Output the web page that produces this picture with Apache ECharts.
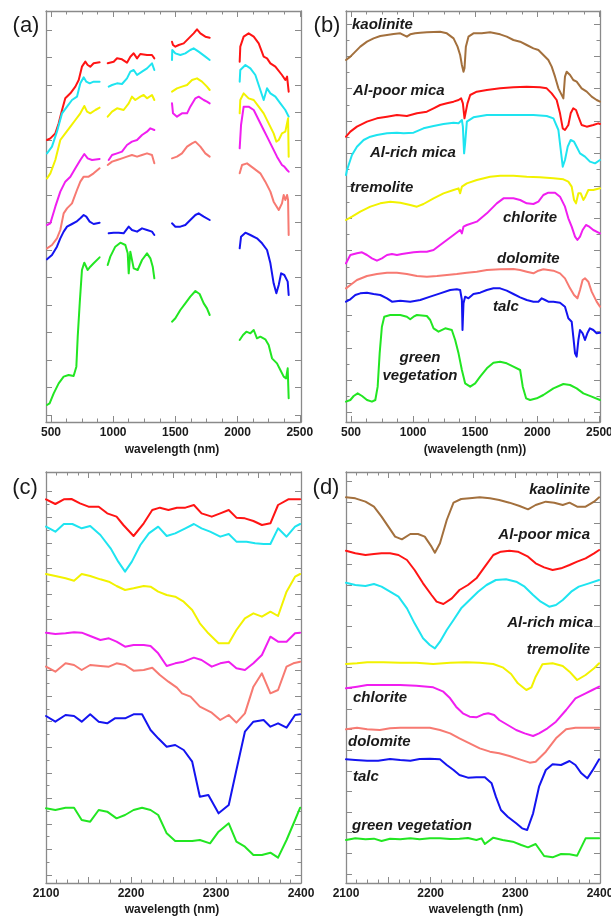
<!DOCTYPE html>
<html>
<head>
<meta charset="utf-8">
<script src="https://cdn.jsdelivr.net/npm/echarts@6/dist/echarts.min.js"></script>
<style>
  html, body { margin: 0; padding: 0; background: #ffffff; }
  #chart { width: 611px; height: 919px; }
</style>
</head>
<body>
<div id="chart"></div>
<script>
// Spectra as [wavelength (nm), relative reflectance, vertically offset].
// Panel (a): image spectra, split into segments by the atmospheric water bands.
const aAlPoorMica = [
  [[468,84.6],[495,85.1],[535,86.6],[562,89.6],[589,93.6],[615,97.1],[656,98.6],[696,100.6],[723,102.6],[749,106.6],[776,108.1],[795,107.1],[816,106.6],[843,107.6],[891,107.9]],
  [[956,107.6],[1004,108.1],[1031,109.1],[1071,108.8],[1111,107.8],[1138,109.6],[1165,110.6],[1192,109.1],[1218,110.4],[1272,110.1],[1312,110.1],[1331,109.1]],
  [[1473,114.1],[1481,113.1],[1500,112.6],[1527,113.1],[1567,113.6],[1607,115.1],[1647,116.6],[1674,117.8],[1701,116.6],[1741,115.6],[1776,115.3]],
  [[2017,108.1],[2022,112.6],[2049,115.6],[2089,116.6],[2130,115.6],[2170,113.6],[2210,109.6],[2237,109.1],[2264,107.6],[2304,106.6],[2357,104.1],[2384,102.6],[2398,103.6],[2411,99.1]]
];
const aAlRichMica = [
  [[468,80.6],[508,82.6],[548,87.1],[589,92.6],[629,94.6],[669,96.6],[709,97.6],[736,101.6],[763,103.4],[784,102.1],[811,101.6],[843,102.1],[891,102.1]],
  [[964,100.6],[991,101.1],[1031,101.6],[1071,101.4],[1111,103.1],[1138,105.1],[1165,105.6],[1192,104.1],[1232,105.1],[1272,106.1],[1312,107.6],[1331,105.6]],
  [[1473,108.6],[1475,111.6],[1500,110.6],[1540,110.1],[1580,110.6],[1620,111.6],[1647,112.1],[1687,111.1],[1741,109.6],[1776,108.6]],
  [[2017,102.1],[2022,105.6],[2063,107.1],[2103,106.1],[2143,104.1],[2183,99.6],[2210,96.6],[2237,100.1],[2264,98.6],[2304,97.6],[2344,95.6],[2384,93.6],[2411,91.6]]
];
const aTremolite = [
  [[468,73.1],[495,74.6],[535,78.6],[575,84.6],[615,86.6],[656,88.6],[696,90.6],[736,92.6],[768,94.8],[790,93.1],[816,92.6],[857,93.6],[891,94.3]],
  [[956,91.6],[991,93.1],[1031,94.1],[1084,93.6],[1125,95.6],[1151,97.6],[1178,96.6],[1218,97.6],[1245,98.1],[1272,97.1],[1312,98.1],[1331,96.6]],
  [[1473,99.1],[1513,100.1],[1553,100.6],[1594,101.1],[1634,102.6],[1674,103.1],[1714,102.1],[1754,100.6],[1776,99.6]],
  [[2017,92.6],[2022,96.6],[2049,98.6],[2089,97.1],[2130,96.6],[2170,94.6],[2210,92.6],[2250,89.6],[2290,86.6],[2312,84.1],[2331,84.6],[2357,86.6],[2384,87.1],[2406,91.1],[2411,79.6]]
];
const aChlorite = [
  [[468,59.1],[495,59.6],[535,64.6],[575,69.1],[615,72.1],[656,73.6],[696,76.1],[736,78.6],[768,80.4],[795,79.1],[830,78.6],[891,78.9]],
  [[964,78.6],[991,80.1],[1031,80.6],[1071,81.1],[1111,83.1],[1151,84.1],[1192,84.6],[1232,86.1],[1272,87.1],[1299,88.1],[1331,87.6]],
  [[1473,95.6],[1481,92.6],[1513,91.6],[1553,92.6],[1594,92.6],[1620,94.6],[1661,97.1],[1687,97.6],[1728,96.6],[1754,96.1],[1776,95.6]],
  [[2017,82.1],[2028,89.1],[2049,94.6],[2089,94.6],[2130,93.6],[2170,90.6],[2210,87.6],[2237,85.6],[2277,82.6],[2317,79.6],[2357,77.1],[2376,76.6],[2398,75.6],[2411,75.1]]
];
const aDolomite = [
  [[468,52.1],[508,53.1],[548,55.1],[575,57.6],[602,62.6],[629,64.1],[669,65.6],[709,69.6],[736,72.1],[763,73.6],[803,73.6],[843,74.6],[891,76.1]],
  [[956,77.1],[991,78.1],[1031,78.6],[1071,79.1],[1111,79.6],[1151,80.1],[1192,79.6],[1232,80.1],[1272,80.6],[1312,80.1],[1331,77.6]],
  [[1473,79.1],[1513,79.6],[1553,80.6],[1594,82.6],[1634,83.6],[1661,84.1],[1701,82.6],[1741,80.6],[1776,79.6]],
  [[2017,74.6],[2036,77.1],[2076,77.6],[2130,76.1],[2183,74.6],[2223,72.1],[2264,69.1],[2290,66.1],[2331,63.6],[2357,65.6],[2371,68.1],[2384,66.6],[2398,68.1],[2406,66.6],[2411,56.1]]
];
const aTalc = [
  [[468,48.8],[508,50.1],[548,52.6],[575,55.1],[602,57.1],[629,58.6],[669,59.4],[704,60.1],[736,61.1],[763,62.1],[784,61.6],[811,60.1],[843,59.4],[891,59.8]],
  [[964,56.6],[1004,56.8],[1044,56.8],[1084,56.6],[1125,58.6],[1151,57.6],[1192,57.1],[1232,58.1],[1272,57.6],[1312,57.1],[1331,56.1]],
  [[1473,59.6],[1500,58.6],[1540,58.6],[1580,59.1],[1620,60.6],[1661,62.1],[1687,62.6],[1728,61.6],[1776,60.6]],
  [[2017,52.1],[2028,55.6],[2063,56.8],[2103,56.1],[2156,55.1],[2197,53.6],[2237,51.6],[2264,47.6],[2290,41.6],[2312,38.6],[2331,41.1],[2350,44.6],[2376,44.1],[2403,42.1],[2411,38.1]]
];
const aVegetation = [
  [[468,5.1],[489,5.6],[522,8.6],[562,11.6],[602,13.6],[642,14.1],[682,13.8],[704,16.6],[715,25.6],[731,35.6],[749,45.6],[768,47.8],[795,45.6],[816,46.6],[843,47.6],[891,49.4]],
  [[956,47.1],[977,49.6],[1017,52.6],[1058,53.8],[1098,53.1],[1117,50.6],[1125,44.6],[1138,51.1],[1151,50.6],[1165,46.1],[1197,45.6],[1232,48.6],[1272,50.6],[1299,49.1],[1318,46.6],[1331,43.1]],
  [[1473,30.1],[1500,31.1],[1540,33.6],[1580,35.6],[1620,37.6],[1661,39.3],[1695,38.4],[1728,35.6],[1754,34.1],[1776,32.1]],
  [[2017,24.6],[2044,26.1],[2071,27.1],[2103,26.6],[2130,27.6],[2156,25.1],[2183,25.6],[2223,24.8],[2250,23.1],[2277,19.1],[2317,17.6],[2344,15.6],[2371,13.6],[2390,13.1],[2403,16.1],[2411,7.1]]
];

// Panel (b): library reference spectra, full range.
const bKaolinite = [[460,108.6],[495,109.6],[535,111.1],[575,112.6],[629,114.1],[682,115.1],[736,115.8],[790,116.1],[843,116.4],[897,116.6],[950,115.6],[977,116.3],[1017,116.6],[1058,116.8],[1111,116.9],[1165,117],[1218,117.1],[1272,116.6],[1326,115.1],[1358,112.6],[1379,110.1],[1393,107.1],[1406,105.1],[1414,106.1],[1425,112.6],[1446,115.6],[1486,116.6],[1553,116.6],[1620,116.9],[1701,116.3],[1754,115.6],[1808,114.6],[1862,114.1],[1915,113.1],[1969,112.1],[2009,111.6],[2049,110.1],[2089,108.6],[2116,106.6],[2143,103.6],[2170,100.1],[2183,99.1],[2197,99.6],[2210,97.1],[2223,103.6],[2237,105.1],[2264,104.1],[2290,102.6],[2317,102.1],[2357,100.1],[2398,99.1],[2438,97.6],[2478,96.6],[2505,96.1]];
const bAlPoorMica = [[460,85.6],[495,87.1],[548,88.6],[629,90.1],[709,91.1],[790,91.6],[870,92.1],[950,91.8],[1031,92.6],[1111,93.1],[1165,94.1],[1218,95.1],[1272,95.6],[1326,96.1],[1366,96.6],[1387,97.1],[1401,95.6],[1414,91.1],[1425,90.6],[1438,95.6],[1460,98.1],[1513,99.1],[1594,99.6],[1701,100.1],[1808,100.4],[1915,100.6],[2022,100.4],[2076,100.1],[2116,98.6],[2156,96.6],[2183,92.6],[2205,88.1],[2223,87.6],[2250,89.1],[2269,92.6],[2290,94.1],[2312,93.6],[2331,91.6],[2357,89.1],[2398,88.6],[2451,89.1],[2491,89.6],[2505,89.4]];
const bAlRichMica = [[460,74.1],[468,75.6],[508,80.1],[548,82.6],[602,84.6],[656,85.6],[709,86.1],[790,86.6],[870,86.8],[924,86.6],[1004,86.8],[1084,88.1],[1165,88.8],[1245,89.4],[1326,89.8],[1366,89.6],[1393,90.6],[1401,88.6],[1411,80.6],[1419,83.6],[1433,90.1],[1486,91.4],[1594,92.1],[1701,92.1],[1835,92.1],[1969,92.1],[2076,91.8],[2130,91.1],[2170,87.6],[2189,81.6],[2205,76.6],[2223,78.6],[2245,82.6],[2269,84.6],[2296,84.1],[2317,82.6],[2344,80.6],[2384,79.6],[2424,78.1],[2465,77.6],[2505,78.6]];
const bTremolite = [[460,60.6],[508,61.6],[575,63.1],[656,64.6],[736,65.6],[816,66.1],[897,65.8],[977,65.1],[1031,64.6],[1084,65.4],[1165,67.1],[1245,68.6],[1326,69.6],[1366,70.1],[1379,68.6],[1393,70.6],[1433,71.6],[1513,72.6],[1620,73.6],[1701,73.9],[1808,73.9],[1915,73.6],[2022,73.4],[2130,73.1],[2210,72.8],[2250,72.1],[2277,70.6],[2296,66.6],[2312,65.6],[2331,68.6],[2350,68.6],[2371,66.6],[2387,67.6],[2411,69.6],[2451,69.6],[2505,70.1]];
const bChlorite = [[460,47.6],[495,50.1],[548,50.6],[589,50.9],[629,50.1],[669,49.1],[709,48.4],[749,49.1],[790,50.1],[830,50.4],[870,50.1],[910,50.4],[950,50.6],[1004,50.9],[1058,51.1],[1111,51.1],[1165,51.6],[1218,53.1],[1272,54.6],[1326,56.1],[1379,57.6],[1393,56.6],[1406,58.6],[1433,59.1],[1513,60.1],[1594,62.6],[1674,65.6],[1728,67.1],[1808,67.1],[1862,66.6],[1915,65.6],[1969,65.4],[2009,66.1],[2049,68.1],[2089,68.8],[2143,68.8],[2183,67.6],[2223,64.6],[2250,61.1],[2277,58.6],[2304,55.6],[2323,54.6],[2344,55.6],[2365,57.6],[2392,59.1],[2419,58.6],[2451,57.6],[2505,56.6]];
const bDolomite = [[460,40.1],[495,41.1],[548,42.6],[629,43.8],[709,44.4],[790,44.8],[870,44.8],[950,44.4],[1031,43.8],[1111,43.6],[1192,43.8],[1272,44.1],[1352,44.4],[1433,44.8],[1513,45.1],[1594,45.6],[1701,45.8],[1808,45.9],[1862,45.6],[1915,45.1],[1969,44.6],[2009,45.4],[2049,45.8],[2130,45.4],[2183,44.6],[2223,43.1],[2264,40.1],[2296,38.1],[2323,37.1],[2344,39.6],[2365,42.6],[2384,43.1],[2411,42.1],[2438,39.1],[2478,36.1],[2505,34.6]];
const bTalc = [[460,36.1],[495,36.8],[535,38.1],[575,38.6],[629,38.8],[682,38.4],[736,38.1],[790,37.1],[830,36.1],[897,36.4],[977,36.1],[1058,36.6],[1138,37.6],[1218,38.6],[1299,39.6],[1352,39.8],[1379,39.6],[1393,36.6],[1398,27.6],[1406,35.6],[1419,37.6],[1446,37.1],[1486,38.4],[1540,38.8],[1594,39.6],[1647,40.1],[1701,40.1],[1754,39.4],[1808,38.4],[1862,37.4],[1915,36.6],[1969,36.1],[2009,36.1],[2036,37.1],[2063,36.6],[2089,36.1],[2130,36.1],[2183,35.8],[2223,34.6],[2250,31.1],[2277,30.1],[2290,25.6],[2304,20.6],[2317,19.6],[2331,24.6],[2344,27.6],[2365,26.6],[2384,24.6],[2403,26.6],[2424,28.1],[2451,27.6],[2478,26.6],[2505,26.8]];
const bVegetation = [[460,6.1],[495,6.6],[522,7.8],[554,8.6],[589,7.8],[629,6.6],[669,6.1],[696,6.6],[715,10.6],[731,20.6],[749,28.6],[768,31.6],[816,32.1],[897,32.1],[950,31.6],[977,30.8],[1004,31.6],[1031,32.1],[1111,31.8],[1138,30.6],[1165,28.1],[1205,27.1],[1259,28.1],[1312,27.6],[1339,24.6],[1366,20.6],[1393,15.6],[1419,11.6],[1460,10.6],[1500,11.6],[1540,13.6],[1594,16.1],[1647,17.8],[1701,18.1],[1754,17.6],[1808,16.6],[1862,15.6],[1883,10.6],[1910,7.1],[1942,6.6],[1996,7.1],[2049,8.1],[2130,10.1],[2210,11.4],[2264,11.1],[2317,10.1],[2371,8.6],[2438,7.6],[2505,6.6]];

// Panel (c): image spectra, 2100-2400 nm.
const cAlPoorMica = [[2100,115.1],[2111,113.7],[2121,115.1],[2130,115.2],[2140,113.9],[2150,112.9],[2162,112.9],[2172,110.9],[2183,109.9],[2191,107.4],[2203,104.1],[2215,107.9],[2225,111.9],[2234,112.6],[2244,111.9],[2254,112.6],[2264,112.6],[2274,113.4],[2283,110.9],[2295,109.9],[2305,110.9],[2315,111.9],[2324,109.6],[2334,109.4],[2344,108.6],[2354,107.4],[2364,107.9],[2373,113.4],[2385,115.1],[2399,115.1]];
const cAlRichMica = [[2100,106.9],[2111,105.4],[2121,107.7],[2131,107.7],[2142,106.4],[2152,107.1],[2164,104.4],[2176,100.4],[2185,96.4],[2193,93.4],[2201,96.4],[2211,101.4],[2221,104.9],[2232,106.9],[2242,104.1],[2252,104.9],[2264,106.4],[2274,107.7],[2283,106.4],[2293,105.4],[2305,103.9],[2315,104.7],[2324,102.4],[2336,102.4],[2346,101.9],[2356,101.7],[2364,101.7],[2373,106.4],[2383,103.9],[2393,106.9],[2399,107.7]];
const cTremolite = [[2100,92.7],[2111,92.1],[2123,91.4],[2133,90.7],[2142,92.7],[2152,92.1],[2164,91.1],[2174,90.4],[2183,89.1],[2193,87.9],[2203,88.4],[2215,89.1],[2223,88.9],[2232,87.4],[2242,86.4],[2252,85.9],[2262,84.4],[2272,81.9],[2281,77.9],[2291,74.9],[2303,71.9],[2315,71.9],[2324,75.9],[2334,79.4],[2344,80.9],[2354,79.9],[2364,81.4],[2373,80.1],[2383,87.4],[2393,91.9],[2399,92.7]];
const cChlorite = [[2100,75.1],[2111,74.7],[2123,74.9],[2133,75.2],[2142,75.1],[2152,74.1],[2164,72.9],[2174,73.4],[2183,72.4],[2193,70.9],[2203,71.4],[2215,71.4],[2223,71.1],[2232,68.9],[2242,65.1],[2252,65.9],[2262,66.4],[2274,67.6],[2283,66.9],[2295,64.9],[2305,65.9],[2315,66.4],[2324,64.4],[2334,63.9],[2344,65.9],[2354,68.4],[2364,73.9],[2373,72.4],[2383,72.4],[2393,74.9],[2399,75.1]];
const cDolomite = [[2100,64.9],[2111,63.4],[2123,65.9],[2133,65.4],[2142,63.9],[2152,65.4],[2164,65.1],[2174,64.9],[2183,65.9],[2193,65.4],[2203,63.7],[2215,63.9],[2225,64.6],[2234,62.4],[2244,60.4],[2254,58.6],[2260,56.9],[2270,55.9],[2281,52.9],[2295,51.1],[2305,48.9],[2315,50.4],[2324,48.1],[2334,50.9],[2344,58.9],[2354,62.9],[2364,56.9],[2373,57.9],[2383,64.9],[2391,65.9],[2399,66.4]];
const cTalc = [[2100,50.1],[2111,48.4],[2123,50.4],[2133,50.1],[2142,48.4],[2152,50.6],[2162,48.4],[2172,47.9],[2181,49.4],[2193,49.4],[2203,50.6],[2213,50.6],[2223,45.9],[2232,43.4],[2242,40.9],[2252,41.4],[2262,39.9],[2272,36.4],[2281,25.9],[2291,26.4],[2303,20.9],[2315,23.4],[2324,33.9],[2334,45.4],[2344,48.4],[2356,48.9],[2364,46.9],[2373,47.9],[2383,46.6],[2393,50.4],[2399,50.6]];
const cVegetation = [[2100,22.4],[2111,21.9],[2123,22.6],[2133,22.6],[2142,18.9],[2152,18.4],[2162,21.9],[2172,21.4],[2183,19.4],[2193,20.4],[2203,21.9],[2213,22.6],[2223,21.9],[2232,20.4],[2242,14.9],[2252,12.6],[2262,12.6],[2272,12.6],[2281,12.9],[2293,11.9],[2303,15.4],[2315,17.9],[2324,12.4],[2334,10.9],[2344,8.4],[2354,8.4],[2364,9.1],[2373,7.6],[2383,12.9],[2393,18.9],[2399,22.6]];

// Panel (d): library spectra resampled, 2100-2400 nm.
const dKaolinite = [[2100,115.7],[2111,115.4],[2123,114.4],[2133,112.9],[2142,109.9],[2150,106.9],[2158,103.9],[2166,103.1],[2176,104.7],[2185,104.7],[2193,103.9],[2201,100.9],[2205,99.1],[2211,101.9],[2219,108.9],[2227,114.1],[2236,115.2],[2246,115.4],[2258,115.7],[2270,115.4],[2281,114.9],[2293,114.1],[2305,113.1],[2315,112.1],[2324,113.4],[2336,114.4],[2346,114.1],[2356,113.4],[2364,114.1],[2373,112.9],[2383,112.9],[2393,114.4],[2399,115.7]];
const dAlPoorMica = [[2100,99.7],[2111,98.9],[2123,98.4],[2133,98.7],[2142,98.9],[2152,98.9],[2162,98.4],[2172,96.9],[2181,93.9],[2191,89.9],[2201,86.4],[2207,84.4],[2215,83.7],[2225,85.4],[2234,87.9],[2244,89.4],[2254,91.4],[2264,94.9],[2274,98.4],[2283,99.4],[2293,99.7],[2303,99.4],[2315,97.9],[2324,95.9],[2334,94.7],[2344,93.9],[2354,94.4],[2364,95.4],[2373,96.4],[2383,97.4],[2393,98.9],[2399,99.9]];
const dAlRichMica = [[2100,90.1],[2111,89.4],[2123,89.1],[2133,89.7],[2142,88.9],[2152,87.4],[2162,85.9],[2172,82.4],[2181,77.9],[2191,73.4],[2199,71.4],[2205,70.4],[2211,72.4],[2219,75.9],[2227,78.9],[2236,82.4],[2246,84.9],[2256,87.4],[2266,89.4],[2277,90.9],[2289,91.1],[2301,90.4],[2311,88.9],[2321,86.4],[2330,84.4],[2340,82.9],[2348,83.4],[2356,84.9],[2366,87.4],[2375,88.9],[2387,89.9],[2399,90.9]];
const dTremolite = [[2100,65.7],[2113,65.9],[2125,66.2],[2144,66.2],[2164,66.1],[2183,66.1],[2203,65.7],[2223,66.1],[2242,66.2],[2258,66.1],[2274,65.7],[2285,64.7],[2295,62.7],[2303,59.9],[2313,57.9],[2319,58.7],[2324,61.9],[2332,65.6],[2344,65.9],[2356,65.1],[2364,63.4],[2373,60.9],[2383,62.4],[2393,64.4],[2399,65.9]];
const dChlorite = [[2100,58.4],[2113,58.9],[2125,59.4],[2144,59.4],[2164,59.4],[2183,59.2],[2203,58.7],[2215,57.4],[2223,55.4],[2230,52.9],[2238,50.9],[2246,49.9],[2254,49.7],[2262,50.6],[2268,50.9],[2275,50.4],[2281,48.9],[2291,47.4],[2301,45.9],[2311,44.9],[2321,44.1],[2328,44.9],[2338,46.4],[2348,48.4],[2360,51.9],[2371,55.4],[2383,56.9],[2391,57.9],[2399,58.9]];
const dDolomite = [[2100,46.1],[2113,46.6],[2125,46.1],[2140,45.9],[2152,46.4],[2164,46.6],[2183,46.6],[2199,46.6],[2211,45.9],[2223,44.9],[2234,43.4],[2246,41.9],[2258,40.4],[2270,39.4],[2281,38.9],[2293,38.1],[2305,37.1],[2317,36.1],[2324,36.4],[2336,39.4],[2348,43.4],[2360,46.1],[2371,46.6],[2387,46.6],[2399,46.6]];
const dTalc = [[2100,37.1],[2111,36.9],[2125,36.7],[2138,36.7],[2152,37.2],[2164,36.9],[2176,36.7],[2187,37.2],[2199,37.3],[2211,37.1],[2219,35.4],[2227,33.9],[2234,32.4],[2244,31.6],[2254,31.7],[2264,31.7],[2272,29.9],[2277,25.9],[2283,21.9],[2291,19.9],[2301,17.9],[2308,16.4],[2314,15.9],[2321,20.9],[2328,28.9],[2336,33.9],[2344,35.6],[2354,35.4],[2364,36.6],[2371,35.4],[2378,32.9],[2385,31.4],[2391,33.7],[2399,37.1]];
const dVegetation = [[2100,12.9],[2111,13.4],[2123,13.1],[2133,13.3],[2142,12.6],[2152,13.3],[2164,13.1],[2176,13.4],[2187,13.1],[2199,13.4],[2211,13.4],[2223,13.2],[2234,13.3],[2244,13.5],[2254,12.9],[2260,13.4],[2264,11.7],[2274,13.6],[2285,12.9],[2297,12.4],[2307,11.4],[2315,10.7],[2324,11.7],[2334,8.1],[2344,7.7],[2354,8.7],[2364,8.6],[2373,8.2],[2383,13.4],[2399,13.4]];

// Axis tick labels
const fullRangeLabels = [500, 1000, 1500, 2000, 2500];
const swirLabels = [2100, 2200, 2300, 2400];

// Mineral names shown beside the library curves
const bNames = ['kaolinite', 'Al-poor mica', 'Al-rich mica', 'tremolite', 'chlorite', 'dolomite', 'talc'];
const dNames = ['kaolinite', 'Al-poor mica', 'Al-rich mica', 'tremolite', 'chlorite', 'dolomite', 'talc', 'green vegetation'];

// ---------------------------------------------------------------------------
const COLORS = {
  kaolinite: '#a3703d',
  alPoor: '#ff1414',
  alRich: '#1ee4f0',
  tremolite: '#f2f200',
  chlorite: '#f01ef0',
  dolomite: '#f77a72',
  talc: '#1414f0',
  vegetation: '#22e622'
};
const FONT = '"Liberation Sans", Arial, Helvetica, sans-serif';
const AXIS_GREY = '#8a8a8a';
const Y_MAX = 123.3;

function seq(start, step, count) {
  const out = [];
  for (let i = 0; i < count; i++) out.push(+(start + i * step).toFixed(3));
  return out;
}

// Panel frames
const grids = [
  { left: 46, top: 11, width: 255, height: 411 },
  { left: 346, top: 11, width: 254, height: 411 },
  { left: 46, top: 472, width: 255, height: 411 },
  { left: 346, top: 472, width: 254, height: 411 }
].map(g => Object.assign({ containLabel: false, outerBoundsMode: 'none', show: false }, g));

const fullMajor = seq(500, 500, 5), fullMinor = seq(500, 125, 17);
const swirMajor = seq(2100, 50, 7), swirMinor = seq(2100, 12.5, 25);

const panelSpec = [
  { xMin: 460, xMax: 2510, xMajor: fullMajor, xMinor: fullMinor, xLabels: fullRangeLabels,
    yMajor: seq(2.1, 8.25, 15), yMinor: [] },
  { xMin: 460, xMax: 2505, xMajor: fullMajor, xMinor: fullMinor, xLabels: fullRangeLabels,
    yMajor: seq(2.8, 9.72, 13), yMinor: seq(7.66, 9.72, 12) },
  { xMin: 2100, xMax: 2400, xMajor: swirMajor, xMinor: swirMinor, xLabels: swirLabels,
    yMajor: seq(2.4, 7.666, 16), yMinor: seq(6.233, 7.666, 15) },
  { xMin: 2100, xMax: 2400, xMajor: swirMajor, xMinor: swirMinor, xLabels: swirLabels,
    yMajor: seq(2.7, 6.195, 20), yMinor: [] }
];

const xAxes = [], yAxes = [];
panelSpec.forEach((p, g) => {
  const line = { lineStyle: { color: AXIS_GREY, width: 1.3 } };
  const tickStyle = { color: AXIS_GREY, width: 1 };
  const hiddenLabel = { show: false };
  const mk = (position, values, len, showLine, labels) => ({
    gridIndex: g, type: 'value', position, min: p.xMin, max: p.xMax,
    axisLine: Object.assign({ show: showLine, onZero: false }, line),
    axisTick: { show: values.length > 0, inside: true, length: len, customValues: values, lineStyle: tickStyle },
    axisLabel: labels ? {
      show: true, customValues: labels, margin: 5, color: '#1a1a1a',
      fontFamily: FONT, fontWeight: 'bold', fontSize: 12,
      formatter: v => String(Math.round(v))
    } : hiddenLabel,
    splitLine: { show: false }, minorTick: { show: false }
  });
  // index order: bottom (data), bottom minor, top, top minor
  xAxes.push(mk('bottom', p.xMajor, 6, true, p.xLabels));
  xAxes.push(mk('bottom', p.xMinor, 3.5, false, null));
  xAxes.push(mk('top', p.xMajor, 6, true, null));
  xAxes.push(mk('top', p.xMinor, 3.5, false, null));

  const mky = (position, values, len, showLine) => ({
    gridIndex: g, type: 'value', position, min: 0, max: Y_MAX,
    axisLine: Object.assign({ show: showLine, onZero: false }, line),
    axisTick: { show: values.length > 0, inside: true, length: len, customValues: values, lineStyle: tickStyle },
    axisLabel: hiddenLabel, splitLine: { show: false }, minorTick: { show: false }
  });
  yAxes.push(mky('left', p.yMajor, 6, true));
  yAxes.push(mky('left', p.yMinor, 3.5, false));
  yAxes.push(mky('right', p.yMajor, 6, true));
  yAxes.push(mky('right', p.yMinor, 3.5, false));
});

// Join water-band-separated segments into one broken line
function joinSegments(segs) {
  const out = [];
  segs.forEach((s, i) => {
    if (i > 0) out.push([s[0][0], null]);
    s.forEach(pt => out.push(pt));
  });
  return out;
}

function spectrum(name, data, color, g) {
  return {
    name, type: 'line', xAxisIndex: g * 4, yAxisIndex: g * 4, data,
    symbol: 'none', showSymbol: false, connectNulls: false, silent: true,
    lineStyle: { color, width: 2, join: 'round', cap: 'round' },
    itemStyle: { color }, emphasis: { disabled: true }, animation: false
  };
}

const series = [
  spectrum('Al-poor mica', joinSegments(aAlPoorMica), COLORS.alPoor, 0),
  spectrum('Al-rich mica', joinSegments(aAlRichMica), COLORS.alRich, 0),
  spectrum('tremolite', joinSegments(aTremolite), COLORS.tremolite, 0),
  spectrum('chlorite', joinSegments(aChlorite), COLORS.chlorite, 0),
  spectrum('dolomite', joinSegments(aDolomite), COLORS.dolomite, 0),
  spectrum('talc', joinSegments(aTalc), COLORS.talc, 0),
  spectrum('green vegetation', joinSegments(aVegetation), COLORS.vegetation, 0),

  spectrum('kaolinite', bKaolinite, COLORS.kaolinite, 1),
  spectrum('Al-poor mica', bAlPoorMica, COLORS.alPoor, 1),
  spectrum('Al-rich mica', bAlRichMica, COLORS.alRich, 1),
  spectrum('tremolite', bTremolite, COLORS.tremolite, 1),
  spectrum('chlorite', bChlorite, COLORS.chlorite, 1),
  spectrum('dolomite', bDolomite, COLORS.dolomite, 1),
  spectrum('talc', bTalc, COLORS.talc, 1),
  spectrum('green vegetation', bVegetation, COLORS.vegetation, 1),

  spectrum('Al-poor mica', cAlPoorMica, COLORS.alPoor, 2),
  spectrum('Al-rich mica', cAlRichMica, COLORS.alRich, 2),
  spectrum('tremolite', cTremolite, COLORS.tremolite, 2),
  spectrum('chlorite', cChlorite, COLORS.chlorite, 2),
  spectrum('dolomite', cDolomite, COLORS.dolomite, 2),
  spectrum('talc', cTalc, COLORS.talc, 2),
  spectrum('green vegetation', cVegetation, COLORS.vegetation, 2),

  spectrum('kaolinite', dKaolinite, COLORS.kaolinite, 3),
  spectrum('Al-poor mica', dAlPoorMica, COLORS.alPoor, 3),
  spectrum('Al-rich mica', dAlRichMica, COLORS.alRich, 3),
  spectrum('tremolite', dTremolite, COLORS.tremolite, 3),
  spectrum('chlorite', dChlorite, COLORS.chlorite, 3),
  spectrum('dolomite', dDolomite, COLORS.dolomite, 3),
  spectrum('talc', dTalc, COLORS.talc, 3),
  spectrum('green vegetation', dVegetation, COLORS.vegetation, 3)
];

// Text helpers
function txt(text, x, y, font, align, color) {
  return {
    type: 'text', x, y, silent: true, z: 100,
    style: { text, font, fill: color || '#1a1a1a', align: align || 'left', verticalAlign: 'middle' }
  };
}
const NAME_FONT = 'italic bold 15px ' + FONT;
const PANEL_FONT = '22px ' + FONT;
const TITLE_FONT = 'bold 12px ' + FONT;

const graphic = [
  txt('(a)', 26, 26, PANEL_FONT, 'center'),
  txt('(b)', 327, 26, PANEL_FONT, 'center'),
  txt('(c)', 25, 488, PANEL_FONT, 'center'),
  txt('(d)', 326, 488, PANEL_FONT, 'center'),

  txt('wavelength (nm)', 172, 450, TITLE_FONT, 'center'),
  txt('(wavelength (nm))', 475, 450, TITLE_FONT, 'center'),
  txt('wavelength (nm)', 172, 910, TITLE_FONT, 'center'),
  txt('wavelength (nm)', 476, 910, TITLE_FONT, 'center'),

  // panel (b) curve names
  txt(bNames[0], 352, 25, NAME_FONT),
  txt(bNames[1], 353, 91, NAME_FONT),
  txt(bNames[2], 370, 153, NAME_FONT),
  txt(bNames[3], 350, 188, NAME_FONT),
  txt(bNames[4], 503, 218, NAME_FONT),
  txt(bNames[5], 497, 259, NAME_FONT),
  txt(bNames[6], 493, 307, NAME_FONT),
  txt('green', 420, 358, NAME_FONT, 'center'),
  txt('vegetation', 420, 376, NAME_FONT, 'center'),

  // panel (d) curve names
  txt(dNames[0], 590, 490, NAME_FONT, 'right'),
  txt(dNames[1], 590, 535, NAME_FONT, 'right'),
  txt(dNames[2], 593, 623, NAME_FONT, 'right'),
  txt(dNames[3], 590, 650, NAME_FONT, 'right'),
  txt(dNames[4], 353, 698, NAME_FONT),
  txt(dNames[5], 348, 742, NAME_FONT),
  txt(dNames[6], 353, 777, NAME_FONT),
  txt(dNames[7], 352, 826, NAME_FONT)
];

const chart = echarts.init(document.getElementById('chart'), null, { renderer: 'canvas' });
chart.setOption({
  backgroundColor: '#ffffff',
  animation: false,
  grid: grids,
  xAxis: xAxes,
  yAxis: yAxes,
  series,
  graphic
});
</script>
</body>
</html>
